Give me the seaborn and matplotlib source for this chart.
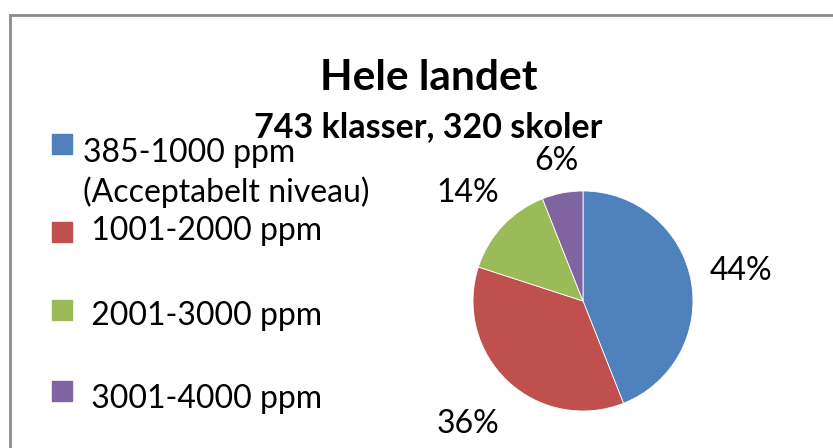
import numpy as np
import matplotlib
matplotlib.use("Agg")
import matplotlib.pyplot as plt
import seaborn as sns
from matplotlib.patches import Rectangle

# data
categories = ["385-1000 ppm\n(Acceptabelt niveau)", " 1001-2000 ppm", " 2001-3000 ppm", " 3001-4000 ppm"]
shares = [44, 36, 14, 6]
colors = ["#4F81BD", "#C0504D", "#9BBB59", "#8064A2"]
title = "Hele landet"
subtitle = "743 klasser, 320 skoler"

# style
sns.set_theme(style="white")
plt.rcParams["font.family"] = ["Lato", "DejaVu Sans"]
plt.rcParams["text.color"] = "black"

W, H = 833, 448
fig = plt.figure(figsize=(W / 100, H / 100), dpi=100)
fig.patch.set_facecolor("white")

def fx(px):
    return px / W

def fy(py):
    return 1 - py / H

# chart frame (cut off at right and bottom like the source)
fig.add_artist(Rectangle((fx(9.5), fy(H + 20)), 1.2, (H + 20 - 15) / H,
                         transform=fig.transFigure, fill=False,
                         edgecolor="#8c8c8c", linewidth=2))

# pie
cx, cy, r = 583, 301, 110
ax = fig.add_axes([fx(cx - r), fy(cy + r), 2 * r / W, 2 * r / H])
wedges, texts, autotexts = ax.pie(
    shares, colors=colors, startangle=90, counterclock=False,
    autopct=lambda p: f"{p:.0f}%", pctdistance=1.45,
    wedgeprops=dict(edgecolor="white", linewidth=0.6),
    textprops=dict(fontsize=23, color="black"))
ax.set_xlim(-1, 1)
ax.set_ylim(-1, 1)
ax.set_aspect("auto")
ax.axis("off")

label_dist = [1.46, 1.53, 1.44, 1.30]
for w, t, d in zip(wedges, autotexts, label_dist):
    ang = np.deg2rad((w.theta1 + w.theta2) / 2)
    t.set_position((d * np.cos(ang), d * np.sin(ang)))
    t.set_ha("center")
    t.set_va("center")

# titles
fig.text(fx(428.5), fy(90), title, ha="center", va="baseline",
         fontsize=30.5, fontweight="bold")
fig.text(fx(428), fy(137), subtitle, ha="center", va="baseline",
         fontsize=24.5, fontweight="bold")

# legend
baselines = [162, 240, 325, 408]
squares = [134, 222, 300, 381]
for lab, col, b, s in zip(categories, colors, baselines, squares):
    fig.add_artist(Rectangle((fx(52), fy(s + 20)), 20 / W, 20 / H,
                             transform=fig.transFigure, color=col))
    for i, line in enumerate(lab.split("\n")):
        fig.text(fx(83), fy(b + 40 * i), line, ha="left", va="baseline",
                 fontsize=23)

fig.savefig("out.png", dpi=100)
